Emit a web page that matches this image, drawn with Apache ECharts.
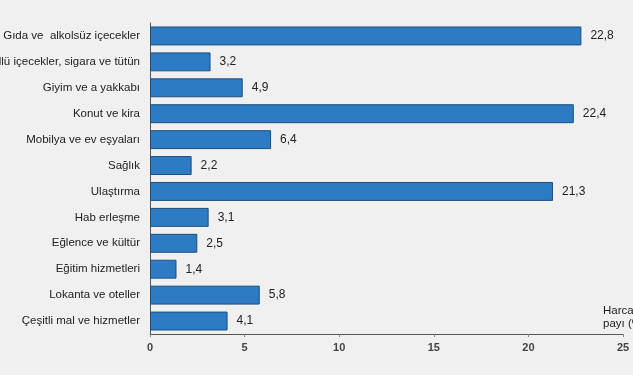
<!DOCTYPE html>
<html><head><meta charset="utf-8">
<script src="https://cdn.jsdelivr.net/npm/echarts@6/dist/echarts.min.js"></script>
<style>html,body{margin:0;padding:0;background:#f0f0f0}#c{width:633px;height:375px}</style>
</head><body><div id="c"></div>
<script>
const categories = ["Gıda ve  alkolsüz içecekler","Alkollü içecekler, sigara ve tütün","Giyim ve a yakkabı","Konut ve kira","Mobilya ve ev eşyaları","Sağlık","Ulaştırma","Hab erleşme","Eğlence ve kültür","Eğitim hizmetleri","Lokanta ve oteller","Çeşitli mal ve hizmetler"];
const values = [22.8,3.2,4.9,22.4,6.4,2.2,21.3,3.1,2.5,1.4,5.8,4.1];
const xTicks = [0,5,10,15,20,25];
const chart = echarts.init(document.getElementById('c'));
chart.setOption({
  backgroundColor:'#f0f0f0',
  animation:false,
  grid:{left:150,right:10,top:23,bottom:41,containLabel:false,outerBoundsMode:'none'},
  xAxis:{type:'value',min:xTicks[0],max:xTicks[xTicks.length-1],interval:5,
    name:'Harcama\npayı (%)',nameLocation:'end',nameGap:-20,
    nameTextStyle:{align:'left',verticalAlign:'bottom',padding:[0,0,4,0],fontFamily:'Liberation Sans',fontSize:11.5,color:'#222',lineHeight:13},
    axisLine:{show:true,lineStyle:{color:'#555',width:1}},
    axisTick:{show:true,length:3,lineStyle:{color:'#888'}},
    splitLine:{show:false},
    axisLabel:{fontFamily:'Liberation Sans',fontSize:11,fontWeight:'bold',color:'#444',margin:8}},
  yAxis:{type:'category',data:categories,inverse:true,
    axisLine:{show:true,lineStyle:{color:'#555'}},axisTick:{show:false},
    axisLabel:{fontFamily:'Liberation Sans',fontSize:11.5,color:'#222',margin:10}},
  series:[{type:'bar',data:values,barCategoryGap:'27%',
    itemStyle:{color:'#2c7bc3',borderColor:'#1e4f7c',borderWidth:1},
    label:{show:true,position:'right',distance:9,fontFamily:'Liberation Sans',fontSize:12,color:'#222',
      formatter:p=>String(p.value).replace('.',',')}}]
});
</script></body></html>
